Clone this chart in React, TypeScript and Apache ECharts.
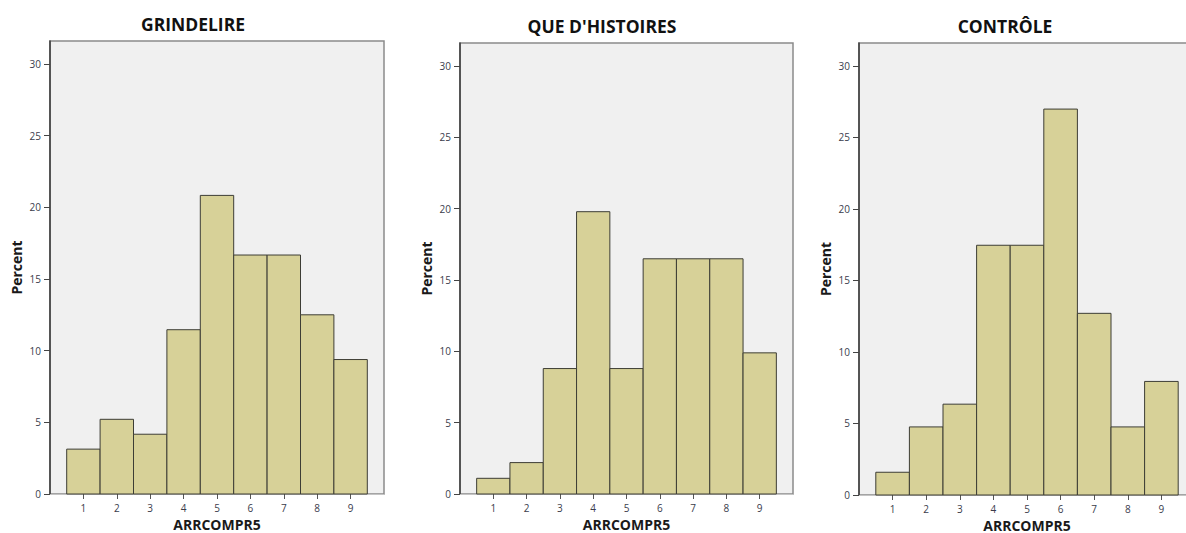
import React, { useEffect, useRef } from "react";
import * as echarts from "echarts";

// Score bins (ARRCOMPR5) and percentage of children in each bin, per group
const scoreBins = [1, 2, 3, 4, 5, 6, 7, 8, 9];
const grindelirePct = [3.13, 5.21, 4.17, 11.46, 20.83, 16.67, 16.67, 12.5, 9.38];
const queDHistoiresPct = [1.1, 2.2, 8.79, 19.78, 8.79, 16.48, 16.48, 16.48, 9.89];
const controlePct = [1.59, 4.76, 6.35, 17.46, 17.46, 26.98, 12.7, 4.76, 7.94];

const panelTitles = ["GRINDELIRE", "QUE D'HISTOIRES", "CONTRÔLE"];
const percentTicks = [0, 5, 10, 15, 20, 25, 30];
const xAxisTitle = "ARRCOMPR5";
const yAxisTitle = "Percent";

const panelSeries = [grindelirePct, queDHistoiresPct, controlePct];

// Pixel layout of the three plot frames
const frames = [
  { left: 50, top: 41, width: 334, height: 453, titleX: 193, titleY: 24, xNameGap: 22 },
  { left: 460, top: 43, width: 333, height: 451, titleX: 602, titleY: 26, xNameGap: 22 },
  { left: 859, top: 43, width: 336, height: 452, titleX: 1005, titleY: 26, xNameGap: 20 },
];

const Y_MAX = 31.6;
const FONT = "'Open Sans', 'DejaVu Sans', sans-serif";

export default function App() {
  const ref = useRef<HTMLDivElement>(null);

  useEffect(() => {
    if (!ref.current) return;
    const chart = echarts.init(ref.current, undefined, { renderer: "svg" });

    const grid = frames.map((f) => ({
      left: f.left,
      top: f.top,
      width: f.width,
      height: f.height,
      show: true,
      backgroundColor: "#f0f0f0",
      borderColor: "#8a8a8a",
      borderWidth: 1.5,
      containLabel: false,
      outerBoundsMode: "none",
    }));

    const xAxis = frames.map((f, i) => ({
      type: "value",
      gridIndex: i,
      min: 0,
      max: 10,
      interval: 1,
      name: xAxisTitle,
      nameLocation: "middle",
      nameGap: f.xNameGap,
      nameTextStyle: {
        fontFamily: FONT,
        fontSize: 14,
        lineHeight: 14,
        fontWeight: "bold",
        color: "#1a1a1a",
      },
      axisLine: { show: true, lineStyle: { color: "#c4c4c4", width: 1 } },
      axisTick: {
        show: true,
        length: 5,
        customValues: scoreBins,
        lineStyle: { color: "#555", width: 1 },
      },
      axisLabel: {
        show: true,
        customValues: scoreBins,
        margin: 9,
        fontFamily: FONT,
        fontSize: 10,
        color: "#3a3c4c",
      },
      splitLine: { show: false },
    }));

    const yAxis = frames.map((_, i) => ({
      type: "value",
      gridIndex: i,
      min: 0,
      max: Y_MAX,
      interval: 5,
      name: yAxisTitle,
      nameLocation: "middle",
      nameGap: 27,
      nameRotate: 90,
      nameTextStyle: { fontFamily: FONT, fontSize: 14, fontWeight: "bold", color: "#1a1a1a" },
      axisLine: { show: true, lineStyle: { color: "#3a3a3a", width: 1.5 } },
      axisTick: {
        show: true,
        length: 6,
        customValues: percentTicks,
        lineStyle: { color: "#444", width: 1 },
      },
      axisLabel: {
        show: true,
        customValues: percentTicks,
        margin: 9,
        fontFamily: FONT,
        fontSize: 10,
        color: "#3a3c4c",
      },
      splitLine: { show: false },
    }));

    const series = panelSeries.map((vals, i) => ({
      type: "custom",
      xAxisIndex: i,
      yAxisIndex: i,
      data: scoreBins.map((b, k) => [b, vals[k]]),
      encode: { x: 0, y: 1 },
      renderItem: (_params: any, api: any) => {
        const x = api.value(0);
        const v = api.value(1);
        const p0 = api.coord([x - 0.5, v]);
        const p1 = api.coord([x + 0.5, 0]);
        return {
          type: "rect",
          shape: { x: p0[0], y: p0[1], width: p1[0] - p0[0], height: p1[1] - p0[1] },
          style: { fill: "#d7d198", stroke: "#3d3d35", lineWidth: 1 },
        };
      },
    }));

    const graphic = frames.map((f, i) => ({
      type: "text",
      x: f.titleX,
      y: f.titleY,
      style: {
        text: panelTitles[i],
        fontFamily: FONT,
        fontSize: 17.5,
        fontWeight: "bold",
        fill: "#111",
        textAlign: "center",
        textVerticalAlign: "middle",
      },
    }));

    chart.setOption({
      animation: false,
      backgroundColor: "#ffffff",
      grid,
      xAxis,
      yAxis,
      series,
      graphic,
    });

    return () => chart.dispose();
  }, []);

  return (
    <div
      ref={ref}
      style={{
        position: "fixed",
        left: 0,
        top: 0,
        width: 1186,
        height: 533,
        overflow: "hidden",
      }}
    />
  );
}
